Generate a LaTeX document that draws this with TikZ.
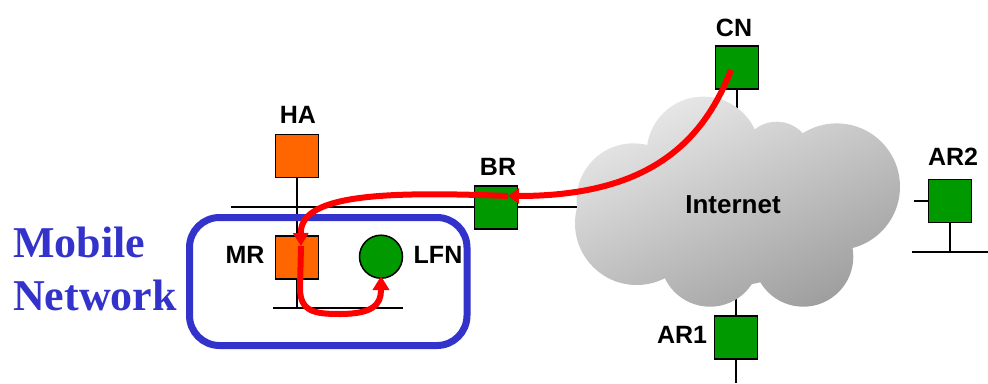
\documentclass[tikz,border=0pt]{standalone}
\usepackage{fontspec}
\setmainfont{Liberation Sans}
\newfontfamily\serifbold{Liberation Serif}
\usetikzlibrary{arrows.meta}
\definecolor{orangebox}{HTML}{FF6600}
\definecolor{greenbox}{HTML}{009900}
\definecolor{mnblue}{HTML}{3333CC}
\definecolor{pathred}{HTML}{FF0000}
\definecolor{cloudtop}{HTML}{EBEBEB}
\definecolor{cloudbot}{HTML}{9C9C9C}
\tikzset{
  router/.style={draw=black, line width=1.5pt, minimum size=43pt, inner sep=0pt, fill=#1},
  host/.style={draw=black, line width=1.5pt, circle, minimum size=43pt, inner sep=0pt, fill=greenbox},
  lbl/.style={font=\fontsize{25}{29}\selectfont\bfseries, inner sep=0pt},
  wire/.style={black, line width=1.5pt},
  route/.style={pathred, line width=6pt},
  mntext/.style={font=\fontsize{44}{50}\selectfont\serifbold\bfseries, text=mnblue, inner sep=0pt, anchor=base west}
}
\begin{document}
\begin{tikzpicture}[x=1pt,y=-1pt]
\useasboundingbox (0,0) rectangle (988,383);
% nodes positions
\coordinate (topL) at (231,207);
\coordinate (topR) at (585,207);
\coordinate (lowL) at (273,308);
\coordinate (lowR) at (403,308);
\coordinate (cnEnd) at (737,115);
\coordinate (ar1Top) at (736,295);
\coordinate (ar1Bot) at (736,383);
\coordinate (ar2Stub) at (914,201);
\coordinate (ar2Down) at (950,252);
\coordinate (ar2L) at (912,252);
\coordinate (ar2R) at (988,252);
\coordinate (haCol) at (297,308);

% wires
\draw[wire] (topL) -- (topR);
\draw[wire] (lowL) -- (lowR);
\draw[wire] (297,178) -- (haCol);
\draw[wire] (737,89) -- (cnEnd);
\draw[wire] (ar1Top) -- (ar1Bot);
\draw[wire] (ar2Stub) -- (928,201);
\draw[wire] (950,222) -- (ar2Down);
\draw[wire] (ar2L) -- (ar2R);

% cloud
\begin{scope}
\clip (633.3,200) circle[radius=56.7]
      (703.3,153.3) circle[radius=56.7]
      (776.7,156.7) circle[radius=35]
      (836.7,186.7) circle[radius=63.3]
      (803.3,256.7) circle[radius=50]
      (710,256.7) circle[radius=50]
      (636.7,223.3) circle[radius=61.7]
      (740,210) circle[radius=75];
\shade[top color=cloudtop, bottom color=cloudbot, shading angle=25] (560,90) rectangle (910,320);
\end{scope}
\node[lbl, font=\fontsize{26}{30}\selectfont\bfseries] (inet) at (733,205) {Internet};

% mobile network box
\draw[mnblue, line width=7pt, rounded corners=30pt] (189.5,217.5) rectangle (467,345.5);
\node[mntext] (mob) at (13,257) {Mobile};
\node[mntext] (net) at (13,310) {Network};

% routers
\node[router=orangebox] (HA) at (297,156) {};
\node[router=orangebox] (MR) at (297,257.5) {};
\node[router=greenbox] (BR) at (496,207.5) {};
\node[router=greenbox] (CN) at (737,67.5) {};
\node[router=greenbox] (AR2) at (950,201) {};
\node[router=greenbox] (AR1) at (736,337.7) {};
\node[host] (LFN) at (381,256.7) {};

% labels
\node[lbl] (haL) at (298,115) {HA};
\node[lbl] (brL) at (498,167) {BR};
\node[lbl] (cnL) at (734,28) {CN};
\node[lbl] (mrL) at (245,255) {MR};
\node[lbl] (lfnL) at (438,255) {LFN};
\node[lbl] (ar2L) at (953,157) {AR2};
\node[lbl] (ar1L) at (682,335) {AR1};

% route
\coordinate (cnStart) at (731,70);
\coordinate (brTip) at (508,196);
\coordinate (mrTip) at (301,246);
\coordinate (lfnTip) at (381,276);
\draw[route, -{Triangle[length=11pt,width=15pt]}] (cnStart) .. controls (700,150) and (640,196) .. (brTip);
\draw[route, -{Triangle[length=13pt,width=15pt]}] (brTip) .. controls (380,191) and (300,195) .. (mrTip);
\draw[route, -{Triangle[length=14pt,width=16pt]}] (mrTip) -- (300,288) .. controls (300,312) and (315,314) .. (340,314) .. controls (372,314) and (381,305) .. (381,290) -- (lfnTip);
\end{tikzpicture}
\end{document}
